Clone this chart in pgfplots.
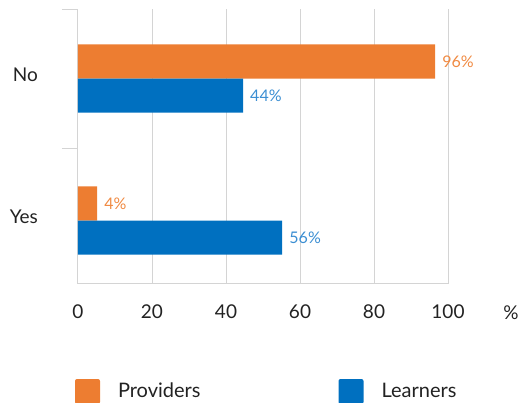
\documentclass[border=0pt]{standalone}
\usepackage{pgfplots}
\pgfplotsset{compat=1.18}
\usepackage{fontspec}
\setmainfont{Lato}
\definecolor{prov}{HTML}{ED7D31}
\definecolor{learn}{HTML}{0070C0}
\definecolor{provlab}{HTML}{F08A42}
\definecolor{learnlab}{HTML}{3B8ED2}
\definecolor{gridc}{HTML}{D4D4D4}
\definecolor{txt}{HTML}{222222}
\begin{document}
\begin{tikzpicture}
\begin{axis}[
  xbar,
  width=370pt, height=275pt, scale only axis,
  xmin=0, xmax=100, ymin=-0.447, ymax=1.49,
  clip=false,
  axis x line*=bottom, axis y line*=left,
  axis line style={gridc, line width=1pt},
  xtick={0,20,40,60,80,100},
  xmajorgrids, grid style={gridc, line width=1pt},
  major tick length=0pt,
  tick style={gridc, line width=1pt},
  ytick={0,1}, yticklabels={Yes,No},
  extra y ticks={0.51,1.489},
  extra y tick labels={},
  extra y tick style={major tick length=16pt, tick align=outside},
  /pgf/number format/assume math mode=true,
  yticklabel style={font=\fontsize{19}{22}\selectfont, text=txt, anchor=base east, inner sep=0pt, xshift=-40pt, yshift=-3pt},
  xticklabel style={font=\fontsize{19}{22}\selectfont, text=txt, anchor=base, inner sep=0pt, yshift=-35pt},
  legend columns=2,
  legend style={at={(-0.0081,-0.3455)}, anchor=north west, draw=none, fill=none,
    inner sep=0pt, outer sep=0pt, font=\fontsize{20}{22}\selectfont, text=txt,
    nodes={inner sep=0pt}, cells={anchor=base west},
    /tikz/every odd column/.append style={column sep=18pt},
    /tikz/every even column/.append style={column sep=138pt}},
  legend image code/.code={\fill[#1, rounded corners=2pt] (0pt,0pt) rectangle (25pt,25pt);},
]
\addplot[fill=prov, draw=none, bar width=0.24, bar shift=0.12,
  nodes near coords, point meta=explicit symbolic,
  nodes near coords style={text=provlab, font=\fontsize{16}{18}\selectfont, anchor=west, inner sep=0pt, xshift=7pt}]
  coordinates {(96.5,1)[96\%] (5.2,0)[4\%]};
\addlegendentry{\raisebox{7pt}{Providers}}
\addplot[fill=learn, draw=none, bar width=0.24, bar shift=-0.12,
  nodes near coords, point meta=explicit symbolic,
  nodes near coords style={text=learnlab, font=\fontsize{16}{18}\selectfont, anchor=west, inner sep=0pt, xshift=7pt}]
  coordinates {(44.6,1)[44\%] (55.2,0)[56\%]};
\addlegendentry{\raisebox{7pt}{Learners}}
\node[anchor=base, font=\fontsize{19}{22}\selectfont, text=txt, inner sep=0pt] at (rel axis cs:1.17,-0.1273) {\%};
\end{axis}
\pgfresetboundingbox
\path[use as bounding box] (-78pt,-119pt) rectangle (444pt,284pt);
\end{tikzpicture}
\end{document}
